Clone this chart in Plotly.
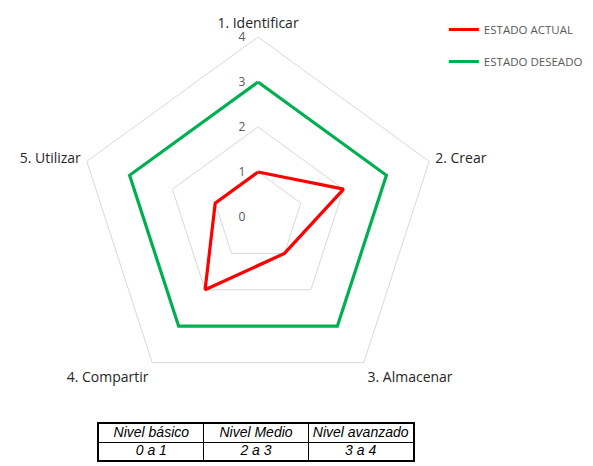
import plotly.graph_objects as go

categorias = ["1. Identificar", "2. Crear", "3. Almacenar", "4. Compartir", "5. Utilizar"]
estado_actual = [1, 2, 1, 2, 1]
estado_deseado = [3, 3, 3, 3, 3]
radial_ticks = [0, 1, 2, 3, 4]
tabla_encabezado = ["Nivel básico", "Nivel Medio", "Nivel avanzado"]
tabla_valores = ["0 a 1", "2 a 3", "3 a 4"]
tabla_filas = ["encabezado", "valores"]

W, H = 593, 466
OFF = 8  # page body margin offset

def cerrar(v):
    return list(v) + [v[0]]

fig = go.Figure()
fig.add_trace(go.Scatterpolar(
    r=cerrar(estado_actual), theta=cerrar(categorias), mode="lines",
    name="ESTADO ACTUAL", line=dict(color="#ff0000", width=3.2),
    legendgroup="a", hoverinfo="skip"))
fig.add_trace(go.Scatterpolar(
    r=cerrar(estado_deseado), theta=cerrar(categorias), mode="lines",
    name="ESTADO DESEADO", line=dict(color="#00b050", width=3.2),
    legendgroup="b", hoverinfo="skip"))

# Table drawn on a categorical grid (gridlines at category boundaries)
cols = list(range(len(tabla_encabezado)))
fig.add_trace(go.Scatter(
    x=[tabla_encabezado[i] for i in cols] * 2,
    y=[tabla_filas[0]] * len(cols) + [tabla_filas[1]] * len(cols),
    text=[f"<i>{t}</i>" for t in tabla_encabezado] + [f"<i>{t}</i>" for t in tabla_valores],
    mode="text", textposition="middle center",
    textfont=dict(family="Liberation Sans, Arial", size=14, color="black"),
    xaxis="x", yaxis="y", showlegend=False, hoverinfo="skip"))

fig.update_layout(
    width=W, height=H,
    margin=dict(l=0, r=0, t=0, b=0),
    paper_bgcolor="white", plot_bgcolor="white",
    font=dict(family="Open Sans, Liberation Sans, sans-serif"),
    xaxis=dict(
        domain=[(99 - OFF)/W, (413 - OFF)/W],
        type="category", categoryorder="array", categoryarray=tabla_encabezado,
        range=[-0.5, len(tabla_encabezado) - 0.5], tickson="boundaries",
        showgrid=True, gridcolor="black", gridwidth=1.2,
        showline=True, mirror=True, linecolor="black", linewidth=2,
        showticklabels=False, ticks="", zeroline=False, fixedrange=True),
    yaxis=dict(
        domain=[(H - 460 + OFF)/H, (H - 424 + OFF)/H],
        type="category", categoryorder="array", categoryarray=tabla_filas[::-1],
        range=[-0.5, len(tabla_filas) - 0.5], tickson="boundaries",
        showgrid=True, gridcolor="black", gridwidth=1.2,
        showline=True, mirror=True, linecolor="black", linewidth=2,
        showticklabels=False, ticks="", zeroline=False, fixedrange=True),
    polar=dict(
        domain=dict(x=[(78 - OFF)/W, (438 - OFF)/W],
                    y=[(H - 397 + OFF)/H, (H - 37 + OFF)/H]),
        bgcolor="white",
        gridshape="linear",
        radialaxis=dict(
            range=[0, 4], tickvals=radial_ticks, angle=90, tickangle=90,
            side="counterclockwise",
            showline=False, showgrid=True, gridcolor="#d9d9d9", gridwidth=1,
            ticks="outside", ticklen=8, tickcolor="rgba(0,0,0,0)",
            tickfont=dict(size=12, color="#595959")),
        angularaxis=dict(
            direction="clockwise", rotation=90,
            showgrid=False, showline=True, linecolor="#d9d9d9", linewidth=1,
            ticks="outside", ticklen=3, tickcolor="rgba(0,0,0,0)",
            tickfont=dict(size=14, color="#262626")),
    ),
    legend=dict(x=0.735, y=0.985, xanchor="left", yanchor="top",
                traceorder="grouped", tracegroupgap=13,
                font=dict(family="Open Sans, sans-serif",
                          size=11.5, color="#595959"),
                bgcolor="rgba(0,0,0,0)"),
)

fig.write_html("out.html")
